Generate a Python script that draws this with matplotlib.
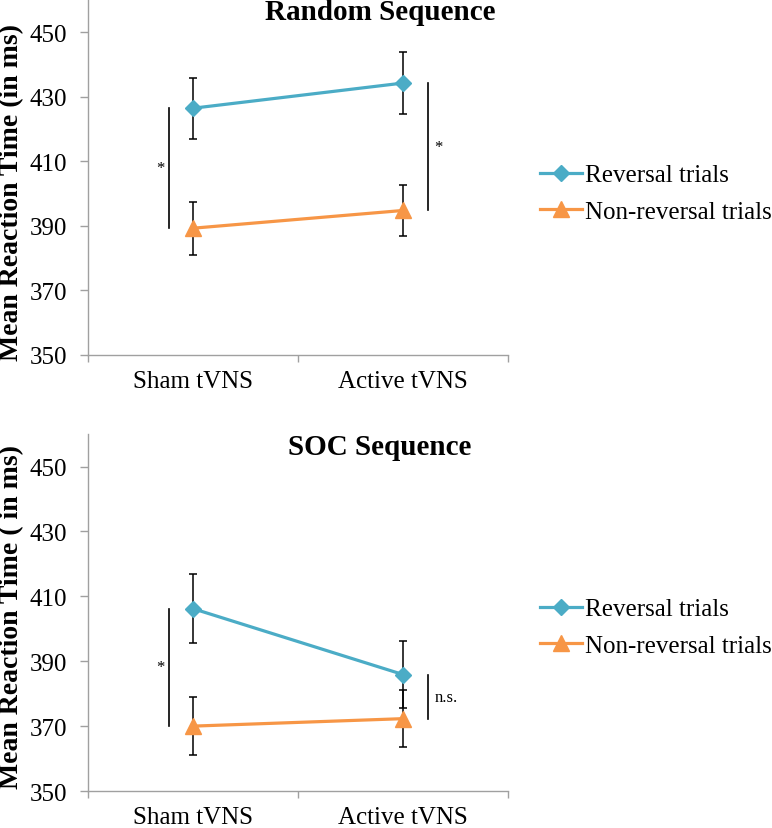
import numpy as np
from matplotlib import pyplot as plt

conditions = ['Sham tVNS', 'Active tVNS']
series_names = ['Reversal trials', 'Non-reversal trials']

# Random sequence: means and error bars
random_rev = [426.5, 434.3]
random_rev_err = [9.5, 9.5]
random_nonrev = [389.3, 394.8]
random_nonrev_err = [8.2, 8.0]

# SOC sequence
soc_rev = [406.2, 385.9]
soc_rev_err = [10.6, 10.4]
soc_nonrev = [370.0, 372.3]
soc_nonrev_err = [8.9, 8.7]

# significance labels per condition
random_sig = ['*', '*']
soc_sig = ['*', 'n.s.']

yticks = [350, 370, 390, 410, 430, 450]

blue = '#4BACC6'
orange = '#F79646'
axis_grey = '#a0a0a0'

plt.rcParams['font.family'] = ['Liberation Serif', 'DejaVu Serif']


def draw_panel(ax, title, title_y, ylabel, ylabel_y, rev, rev_err, nonrev, nonrev_err, sig, leg_y):
    x = np.arange(len(conditions)) + 0.5
    # error bars first, then lines with markers on top
    ax.errorbar(x, rev, yerr=rev_err, fmt='none', ecolor='black',
                elinewidth=1.1, capsize=3, capthick=1.1, zorder=2)
    ax.errorbar(x, nonrev, yerr=nonrev_err, fmt='none', ecolor='black',
                elinewidth=1.1, capsize=3, capthick=1.1, zorder=2)
    ax.plot(x, rev, color=blue, lw=2.3, marker='D', ms=8,
            label=series_names[0], zorder=3)
    ax.plot(x, nonrev, color=orange, lw=2.3, marker='^', ms=11,
            label=series_names[1], zorder=3)

    # significance brackets between the two series
    offsets = [-0.114, 0.119]
    for i in range(len(conditions)):
        lx = x[i] + offsets[i]
        ax.plot([lx, lx], [rev[i], nonrev[i]], color='black', lw=1.2)
        mid = (rev[i] + nonrev[i]) / 2
        if i == 0:
            ax.text(lx - 0.043, mid, sig[i], ha='center', va='center', fontsize=12)
        else:
            ax.text(lx + 0.03, mid, sig[i], ha='left', va='center', fontsize=12)

    ax.set_xlim(0, 2)
    ax.set_ylim(350, 460)
    ax.set_yticks(yticks)
    ax.set_xticks([0, 1, 2])
    ax.set_xticklabels([])
    ax.set_xticks(x, minor=True)
    ax.set_xticklabels(conditions, minor=True)
    ax.tick_params(axis='x', which='minor', length=0, pad=11, labelsize=18)
    ax.tick_params(axis='x', which='major', length=5, color=axis_grey, width=1)
    ax.tick_params(axis='y', length=6, color=axis_grey, width=1, pad=9, labelsize=18)
    for s in ['top', 'right']:
        ax.spines[s].set_visible(False)
    for s in ['left', 'bottom']:
        ax.spines[s].set_color(axis_grey)
        ax.spines[s].set_linewidth(1)

    ax.text(0.695, title_y, title, transform=ax.transAxes, ha='center',
            va='center', fontsize=21, fontweight='bold')
    ax.set_ylabel(ylabel, fontsize=20, fontweight='bold')
    ax.yaxis.set_label_coords(-0.152, ylabel_y)

    ax.legend(loc='center left', bbox_to_anchor=(0.6995, leg_y),
              bbox_transform=ax.figure.transFigure, frameon=False, fontsize=18,
              handlelength=1.68, handletextpad=0.12, labelspacing=0.56,
              borderpad=0, borderaxespad=0)


fig = plt.figure(figsize=(7.72, 8.29), dpi=100)
ax1 = fig.add_axes([0.114, 0.5706, 0.544, 0.428])
ax2 = fig.add_axes([0.114, 0.0446, 0.544, 0.4306])

draw_panel(ax1, 'Random Sequence', 0.969, 'Mean Reaction Time (in ms)', 0.46,
           random_rev, random_rev_err, random_nonrev, random_nonrev_err,
           random_sig, 0.7654)
draw_panel(ax2, 'SOC Sequence', 0.966, 'Mean Reaction Time ( in ms)', 0.49,
           soc_rev, soc_rev_err, soc_nonrev, soc_nonrev_err,
           soc_sig, 0.2419)

fig.savefig('out.png', dpi=100)
